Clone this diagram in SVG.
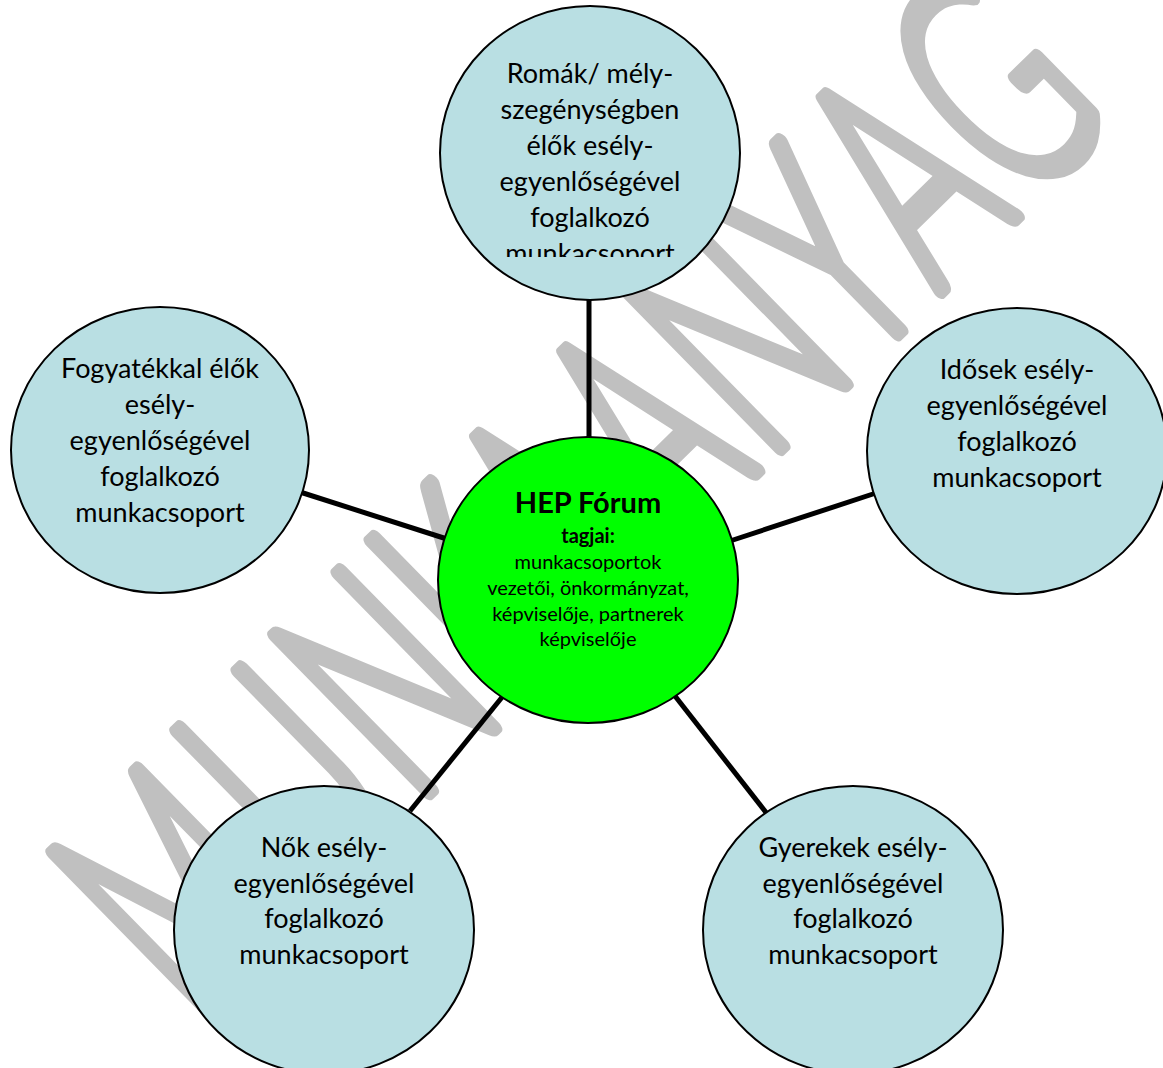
<svg xmlns="http://www.w3.org/2000/svg" width="1163" height="1068" viewBox="0 0 1163 1068">
<defs>
<style>
.bubble{fill:#b9dfe3;stroke:#000;stroke-width:2}
.hub{fill:#00ff00;stroke:#000;stroke-width:2}
.lbl{font-family:Lato,"Open Sans",sans-serif;font-size:27px;fill:#000;text-anchor:middle}
.hl{font-family:Lato,"Open Sans",sans-serif;font-size:20px;fill:#000;text-anchor:middle}
.hb{font-family:Lato,"Open Sans",sans-serif;font-weight:bold;fill:#000;text-anchor:middle}
.link{stroke:#000;stroke-width:5;fill:none}
.wm{font-family:Lato,"Open Sans",sans-serif;font-weight:300;font-size:310px;fill:#c0c0c0;stroke:#c0c0c0;stroke-width:13;stroke-linejoin:round;stroke-linecap:round;text-anchor:middle}
</style>
<clipPath id="topclip"><rect x="440" y="20" width="300" height="237"/></clipPath>
</defs>
<rect width="1163" height="1068" fill="#fff"/>
<g id="watermark" transform="translate(988,250) rotate(-44.4) scale(0.57,1)">
<text class="wm" vector-effect="non-scaling-stroke" x="-1807 -1528 -1286 -1068 -867 -653 -423 -212 -16 209" y="-4">MUNKAANYAG</text>
</g>
<g id="connectors">
<line class="link" x1="589" y1="296" x2="589" y2="444"/>
<line class="link" x1="300" y1="492" x2="450" y2="540"/>
<line class="link" x1="730" y1="541" x2="876" y2="493"/>
<line class="link" x1="503" y1="696" x2="410" y2="811"/>
<line class="link" x1="675" y1="696" x2="768" y2="815"/>
</g>
<g id="node-roma">
<ellipse class="bubble" cx="590" cy="153" rx="150" ry="147"/>
<g clip-path="url(#topclip)">
<text class="lbl" x="590" y="83">Romák/ mély-</text>
<text class="lbl" x="590" y="119">szegénységben</text>
<text class="lbl" x="590" y="155">élők esély-</text>
<text class="lbl" x="590" y="191">egyenlőségével</text>
<text class="lbl" x="590" y="227">foglalkozó</text>
<text class="lbl" x="590" y="263">munkacsoport</text>
</g>
</g>
<g id="node-fogyatekkal">
<ellipse class="bubble" cx="160" cy="450" rx="149" ry="143"/>
<text class="lbl" x="160" y="378">Fogyatékkal élők</text>
<text class="lbl" x="160" y="414">esély-</text>
<text class="lbl" x="160" y="450">egyenlőségével</text>
<text class="lbl" x="160" y="486">foglalkozó</text>
<text class="lbl" x="160" y="522">munkacsoport</text>
</g>
<g id="node-idosek">
<ellipse class="bubble" cx="1017" cy="451" rx="150" ry="143"/>
<text class="lbl" x="1017" y="379">Idősek esély-</text>
<text class="lbl" x="1017" y="415">egyenlőségével</text>
<text class="lbl" x="1017" y="451">foglalkozó</text>
<text class="lbl" x="1017" y="487">munkacsoport</text>
</g>
<g id="node-hep">
<ellipse class="hub" cx="588" cy="580" rx="150" ry="143"/>
<text class="hb" x="588" y="513" font-size="29">HEP Fórum</text>
<text class="hb" x="588" y="543" font-size="20">tagjai:</text>
<text class="hl" x="588" y="569">munkacsoportok</text>
<text class="hl" x="588" y="595">vezetői, önkormányzat,</text>
<text class="hl" x="588" y="621">képviselője, partnerek</text>
<text class="hl" x="588" y="646">képviselője</text>
</g>
<g id="node-nok">
<ellipse class="bubble" cx="324" cy="930" rx="150" ry="144"/>
<text class="lbl" x="324" y="857">Nők esély-</text>
<text class="lbl" x="324" y="893">egyenlőségével</text>
<text class="lbl" x="324" y="928">foglalkozó</text>
<text class="lbl" x="324" y="964">munkacsoport</text>
</g>
<g id="node-gyerekek">
<ellipse class="bubble" cx="853" cy="930" rx="150" ry="144"/>
<text class="lbl" x="853" y="857">Gyerekek esély-</text>
<text class="lbl" x="853" y="893">egyenlőségével</text>
<text class="lbl" x="853" y="928">foglalkozó</text>
<text class="lbl" x="853" y="964">munkacsoport</text>
</g>
</svg>
